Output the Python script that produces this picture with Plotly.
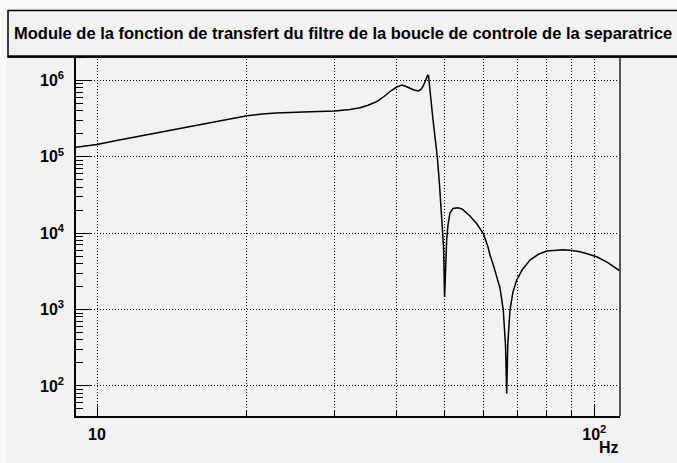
import plotly.graph_objects as go

# Transfer-function magnitude of the separatrix control-loop filter
freq_hz = [9.07, 10.0, 11.02, 12.2, 13.7, 15.38, 17.51, 20.03, 21.47, 22.91,
           25.96, 30.06, 32.27, 33.8, 35.07, 36.51, 37.77, 38.84, 40.06, 41.01,
           41.83, 42.61, 43.39, 44.27, 44.82, 45.24, 45.77, 46.24, 46.41, 46.73,
           47.32, 47.83, 48.34, 48.84, 49.34, 49.76, 50.0, 50.23, 50.48, 50.79,
           51.25, 51.99, 53.13, 54.2, 56.23, 58.09, 59.82, 61.13, 61.7, 62.65,
           63.73, 64.63, 65.61, 66.29, 66.66, 66.99, 67.68, 68.62, 69.82, 71.55,
           74.25, 77.05, 80.2, 83.36, 86.6, 90.19, 93.6, 97.1, 101.1, 106.5,
           112.5]
module = [1.33e5, 1.45e5, 1.644e5, 1.866e5, 2.14e5, 2.48e5, 2.915e5, 3.44e5,
          3.61e5, 3.73e5, 3.86e5, 3.96e5, 4.135e5, 4.38e5, 4.71e5, 5.25e5,
          6.14e5, 7.14e5, 8.17e5, 8.68e5, 8.3e5, 7.88e5, 7.46e5, 7.24e5,
          7.58e5, 8.3e5, 9.79e5, 1.16e6, 1.156e6, 7.93e5, 3.31e5, 1.81e5,
          1.0e5, 4.26e4, 1.48e4, 6.58e3, 1.46e3, 3.29e3, 8.1e3, 1.276e4,
          1.83e4, 2.1e4, 2.15e4, 2.07e4, 1.675e4, 1.315e4, 9.9e3, 6.58e3,
          5.17e3, 3.82e3, 2.58e3, 1.91e3, 985, 343, 80, 343, 985, 1.69e3,
          2.43e3, 3.29e3, 4.45e3, 5.25e3, 5.83e3, 6.01e3, 6.06e3, 5.92e3,
          5.71e3, 5.32e3, 4.91e3, 4.12e3, 3.22e3]

title_text = "Module de la fonction de transfert du filtre de la boucle de controle de la separatrice"
x_major = [10, 100]
x_major_text = ["10", "10<sup>2</sup>"]
x_minor = [20, 30, 40, 50, 60, 70, 80, 90]
y_major = [1e2, 1e3, 1e4, 1e5, 1e6]
y_major_text = ["10<sup>2</sup>", "10<sup>3</sup>", "10<sup>4</sup>",
                "10<sup>5</sup>", "10<sup>6</sup>"]
y_minor = [m * 10 ** e for e in range(1, 7) for m in range(2, 10)]
x_unit = "Hz"

W, H = 677, 463
L, R, T, B = 76, 57, 56, 47
PW, PH = W - L - R, H - T - B
BG = "#f2f2f2"
FONT = "Liberation Sans"
GRID_DASH = "1px,2px"


def px_x(p):
    return (p - L) / PW


def px_y(p):
    return (H - B - p) / PH


fig = go.Figure()
fig.add_trace(go.Scatter(x=freq_hz, y=module, mode="lines",
                         line=dict(color="black", width=1.5),
                         hoverinfo="x+y", showlegend=False))

axis_common = dict(
    type="log",
    ticks="inside",
    tickcolor="black",
    tickwidth=1,
    showline=True,
    linecolor="black",
    linewidth=1.5,
    zeroline=False,
    tickfont=dict(family=FONT, size=16, color="black", weight="bold"),
    gridcolor="black",
    griddash=GRID_DASH,
    gridwidth=1,
    showgrid=True,
)

fig.update_xaxes(
    **axis_common,
    range=[0.95777, 2.0517],
    tickmode="array", tickvals=x_major, ticktext=x_major_text,
    ticklen=11,
    ticklabelstandoff=3,
    minor=dict(tickmode="array", tickvals=x_minor, ticks="inside",
               ticklen=5, tickcolor="black", showgrid=True,
               gridcolor="black", griddash=GRID_DASH, gridwidth=1),
)
fig.update_yaxes(
    **axis_common,
    range=[1.6073, 6.318],
    tickmode="array", tickvals=y_major, ticktext=y_major_text,
    ticklen=15,
    ticklabelstandoff=7,
    minor=dict(tickmode="array", tickvals=y_minor, ticks="inside",
               ticklen=7, tickcolor="black", showgrid=False),
)

shapes = [
    # canvas inner area
    dict(type="rect", xref="paper", yref="paper", layer="below",
         x0=px_x(7), x1=px_x(W + 5), y0=px_y(H + 5), y1=px_y(8),
         fillcolor=BG, line=dict(width=0)),
    # right frame edge
    dict(type="line", xref="paper", yref="paper",
         x0=1, x1=1, y0=0, y1=1, line=dict(color="#555555", width=2)),
    # title box
    dict(type="rect", xref="paper", yref="paper",
         x0=px_x(8), x1=px_x(W + 20), y0=px_y(57), y1=px_y(10.5),
         fillcolor=BG, line=dict(color="black", width=1.5)),
    dict(type="line", xref="paper", yref="paper",
         x0=px_x(8), x1=px_x(W + 20), y0=px_y(56.5), y1=px_y(56.5),
         line=dict(color="black", width=2.5)),
]

annotations = [
    dict(text="<b>" + title_text + "</b>", xref="paper", yref="paper",
         x=px_x(12), y=px_y(33), xanchor="left", yanchor="middle",
         showarrow=False, font=dict(family=FONT, size=16.5, color="black")),
    dict(text="<b>" + x_unit + "</b>", xref="paper", yref="paper",
         x=px_x(621), y=px_y(448), xanchor="right", yanchor="middle",
         showarrow=False, font=dict(family=FONT, size=16, color="black")),
]

fig.update_layout(
    width=W, height=H,
    margin=dict(l=L, r=R, t=T, b=B, pad=0),
    paper_bgcolor="#f8f8f8",
    plot_bgcolor="rgba(0,0,0,0)",
    shapes=shapes,
    annotations=annotations,
    showlegend=False,
)

fig.write_html("out.html", config={"displayModeBar": False})
